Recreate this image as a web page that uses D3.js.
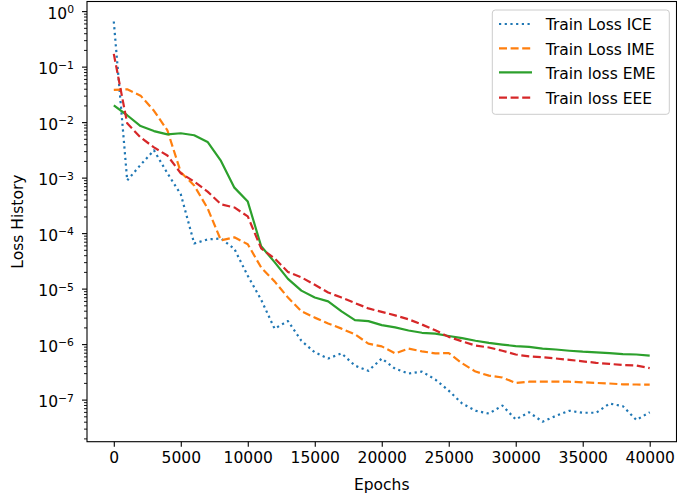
<!DOCTYPE html>
<html>
<head>
<meta charset="utf-8">
<script src="https://cdn.jsdelivr.net/npm/d3@7"></script>
<style>
  html, body { margin: 0; padding: 0; background: #fff; }
  svg { display: block; font-family: "DejaVu Sans", sans-serif; }
</style>
</head>
<body>
<svg id="chart" width="677" height="497"></svg>
<script>
// Training epochs, sampled every 1000 steps
const epochs = d3.range(0, 40001, 1000);

const lossICE = [
  0.65, 8.9e-4, 1.7e-3, 3.1e-3, 1.2e-3, 5.0e-4, 6.5e-5, 7.7e-5, 8.0e-5, 5.2e-5,
  1.7e-5, 6.3e-6, 1.9e-6, 2.6e-6, 1.15e-6, 7.1e-7, 5.5e-7, 6.8e-7, 4.1e-7, 3.3e-7,
  5.5e-7, 3.6e-7, 2.95e-7, 3.2e-7, 2.3e-7, 1.45e-7, 8.5e-8, 6.3e-8, 5.6e-8, 7.8e-8,
  4.4e-8, 5.9e-8, 4.0e-8, 5.1e-8, 6.3e-8, 5.8e-8, 5.8e-8, 8.5e-8, 7.6e-8, 4.3e-8,
  5.9e-8
];
const lossIME = [
  0.038, 0.039, 0.030, 0.016, 7.1e-3, 1.25e-3, 7.2e-4, 2.8e-4, 7.4e-5, 8.4e-5,
  6.3e-5, 2.4e-5, 1.35e-5, 6.9e-6, 3.9e-6, 3.0e-6, 2.35e-6, 1.9e-6, 1.5e-6, 1.02e-6,
  9.1e-7, 6.8e-7, 8.3e-7, 7.4e-7, 6.8e-7, 6.9e-7, 4.5e-7, 3.2e-7, 2.7e-7, 2.5e-7,
  2.0e-7, 2.1e-7, 2.1e-7, 2.1e-7, 2.1e-7, 2.05e-7, 2.0e-7, 1.95e-7, 1.88e-7, 1.87e-7,
  1.86e-7
];
const lossEME = [
  0.020, 0.0133, 8.5e-3, 6.9e-3, 6.0e-3, 6.3e-3, 5.8e-3, 4.4e-3, 2.0e-3, 6.6e-4,
  3.7e-4, 5.8e-5, 3.0e-5, 1.5e-5, 9.2e-6, 6.9e-6, 5.9e-6, 3.9e-6, 2.7e-6, 2.6e-6,
  2.2e-6, 2.0e-6, 1.76e-6, 1.6e-6, 1.55e-6, 1.4e-6, 1.28e-6, 1.15e-6, 1.05e-6, 9.8e-7,
  9.2e-7, 8.9e-7, 8.3e-7, 8.0e-7, 7.6e-7, 7.3e-7, 7.1e-7, 6.9e-7, 6.6e-7, 6.5e-7,
  6.2e-7
];
const lossEEE = [
  0.17, 9.5e-3, 5.3e-3, 3.5e-3, 2.5e-3, 1.2e-3, 8.5e-4, 5.6e-4, 3.3e-4, 2.9e-4,
  2.0e-4, 5.3e-5, 3.5e-5, 2.0e-5, 1.6e-5, 1.17e-5, 8.5e-6, 6.9e-6, 5.5e-6, 4.4e-6,
  3.8e-6, 3.3e-6, 2.8e-6, 2.25e-6, 1.77e-6, 1.35e-6, 1.12e-6, 9.4e-7, 8.7e-7, 7.6e-7,
  6.5e-7, 6.0e-7, 5.8e-7, 5.5e-7, 5.2e-7, 4.9e-7, 4.6e-7, 4.4e-7, 4.2e-7, 4.1e-7,
  3.7e-7
];

const seriesNames = ["Train Loss ICE", "Train Loss IME", "Train loss EME", "Train loss EEE"];
const seriesColors = ["#1f77b4", "#ff7f0e", "#2ca02c", "#d62728"];
const seriesDashes = ["2.2,3.5", "8,3.6", null, "8,3.6"];
const xTickValues = [0, 5000, 10000, 15000, 20000, 25000, 30000, 35000, 40000];
const yTickExponents = [0, -1, -2, -3, -4, -5, -6, -7];

const series = [lossICE, lossIME, lossEME, lossEEE].map((vals, i) => ({
  name: seriesNames[i], color: seriesColors[i], dash: seriesDashes[i],
  points: epochs.map((e, j) => [e, vals[j]])
}));

const svg = d3.select("#chart");
const plot = { left: 87, right: 676.5, top: 1.5, bottom: 441.7 };
const font = 15.5;

// Axis limits with a 5% margin, linear in x and in log-space in y
const xExt = d3.extent(epochs);
const xPad = (xExt[1] - xExt[0]) * 0.05;
const x = d3.scaleLinear().domain([xExt[0] - xPad, xExt[1] + xPad]).range([plot.left, plot.right]);

const allVals = [lossICE, lossIME, lossEME, lossEEE].flat();
const lMin = Math.log10(d3.min(allVals)), lMax = Math.log10(d3.max(allVals));
const lPad = (lMax - lMin) * 0.05;
const y = d3.scaleLog().domain([Math.pow(10, lMin - lPad), Math.pow(10, lMax + lPad)])
  .range([plot.bottom, plot.top]);

// Lines
const line = d3.line().x(d => x(d[0])).y(d => y(d[1]));
const g = svg.append("g");
series.forEach(s => {
  g.append("path")
    .attr("d", line(s.points))
    .attr("fill", "none")
    .attr("stroke", s.color)
    .attr("stroke-width", 2.2)
    .attr("stroke-linejoin", "round")
    .attr("stroke-dasharray", s.dash);
});

// Frame
svg.append("rect")
  .attr("x", plot.left).attr("y", plot.top)
  .attr("width", plot.right - plot.left).attr("height", plot.bottom - plot.top)
  .attr("fill", "none").attr("stroke", "#000").attr("stroke-width", 1.1);

// X axis
const xAxis = svg.append("g")
  .attr("transform", `translate(0,${plot.bottom})`)
  .call(d3.axisBottom(x).tickValues(xTickValues).tickSize(5).tickPadding(5).tickFormat(d3.format("d")));
xAxis.select(".domain").remove();
xAxis.selectAll("line").attr("stroke", "#000").attr("stroke-width", 1.1);
xAxis.selectAll("text").attr("font-size", font).attr("font-family", "DejaVu Sans").attr("fill", "#000");

// Y axis: minor ticks
const [dLo, dHi] = y.domain();
const minorVals = [];
for (let k = Math.floor(Math.log10(dLo)); k <= Math.ceil(Math.log10(dHi)); k++) {
  for (let m = 2; m <= 9; m++) {
    const v = m * Math.pow(10, k);
    if (v >= dLo && v <= dHi) minorVals.push(v);
  }
}
const yMinor = svg.append("g")
  .attr("transform", `translate(${plot.left},0)`)
  .call(d3.axisLeft(y).tickValues(minorVals).tickSize(3).tickFormat(""));
yMinor.select(".domain").remove();
yMinor.selectAll("line").attr("stroke", "#000").attr("stroke-width", 0.9);

// Y axis: major ticks with power-of-ten labels
const yMajor = svg.append("g")
  .attr("transform", `translate(${plot.left},0)`)
  .call(d3.axisLeft(y).tickValues(yTickExponents.map(e => Math.pow(10, e))).tickSize(5).tickFormat(""));
yMajor.select(".domain").remove();
yMajor.selectAll("line").attr("stroke", "#000").attr("stroke-width", 1.1);
yTickExponents.forEach(e => {
  const t = svg.append("text")
    .attr("x", 74)
    .attr("y", y(Math.pow(10, e)) + 7.6)
    .attr("text-anchor", "end")
    .attr("font-size", font)
    .attr("fill", "#000");
  t.append("tspan").text("10");
  t.append("tspan").attr("font-size", 10.8).attr("dy", -5.4).text(e < 0 ? "\u2212" + Math.abs(e) : String(e));
});

// Axis titles
svg.append("text")
  .attr("x", (plot.left + plot.right) / 2)
  .attr("y", 490)
  .attr("text-anchor", "middle")
  .attr("font-size", font)
  .attr("fill", "#000")
  .text("Epochs");
svg.append("text")
  .attr("transform", `translate(23,${(plot.top + plot.bottom) / 2}) rotate(-90)`)
  .attr("text-anchor", "middle")
  .attr("font-size", font)
  .attr("fill", "#000")
  .text("Loss History");

// Legend
const legend = svg.append("g");
legend.append("rect")
  .attr("x", 492.3).attr("y", 10)
  .attr("width", 177).attr("height", 104.3)
  .attr("rx", 3).attr("ry", 3)
  .attr("fill", "#fff").attr("fill-opacity", 0.8)
  .attr("stroke", "#cccccc").attr("stroke-width", 1);
const rowY = [24, 48.3, 72.3, 97.7];
series.forEach((s, i) => {
  legend.append("line")
    .attr("x1", 499).attr("x2", 532)
    .attr("y1", rowY[i]).attr("y2", rowY[i])
    .attr("stroke", s.color).attr("stroke-width", 2.2)
    .attr("stroke-dasharray", s.dash);
  legend.append("text")
    .attr("x", 545.7).attr("y", rowY[i] + 6.3)
    .attr("font-size", font).attr("fill", "#000")
    .text(s.name);
});
</script>
</body>
</html>
